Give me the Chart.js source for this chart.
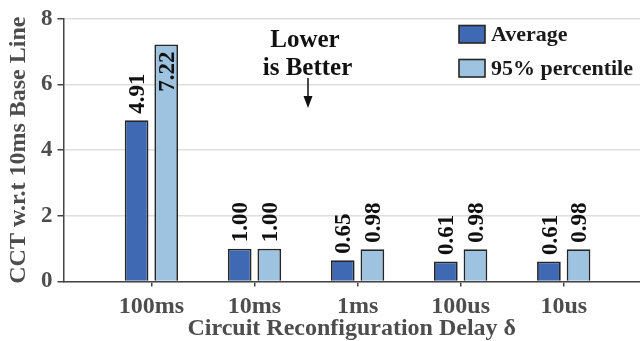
<!DOCTYPE html>
<html>
<head>
<meta charset="utf-8">
<script src="https://cdn.jsdelivr.net/npm/chart.js@4.4.1/dist/chart.umd.min.js"></script>
<style>
  html, body { margin: 0; padding: 0; background: #fff; }
  #wrap { width: 640px; height: 341px; position: relative; }
</style>
</head>
<body>
<div id="wrap"><canvas id="delayChart"></canvas></div>
<script>
'use strict';

const categories = ['100ms', '10ms', '1ms', '100us', '10us'];
const averageValues = [4.91, 1.00, 0.65, 0.61, 0.61];
const percentileValues = [7.22, 1.00, 0.98, 0.98, 0.98];
const seriesNames = ['Average', '95% percentile'];
const yTickValues = [0, 2, 4, 6, 8];
const noteLines = ['Lower', 'is Better'];

const serif = '"Liberation Serif", "Times New Roman", serif';
const avgColor = '#3f69b3';
const pctColor = '#9ec3e0';
const edgeColor = '#262626';
const axisGray = '#4d4d4d';

function toPoints(values) {
    let points = [];
    for (let i = 0; i < values.length; i++) {
        points.push({ x: i, y: values[i] });
    }
    return points;
}

// rotated value labels above (or inside, when no room) each bar
const barLabels = {
    id: 'barLabels',
    afterDatasetsDraw(chart) {
        const ctx = chart.ctx;
        const top = chart.chartArea.top;
        ctx.save();
        ctx.font = 'bold 23px ' + serif;
        ctx.fillStyle = '#111';
        ctx.textBaseline = 'alphabetic';
        chart.data.datasets.forEach((ds, d) => {
            const meta = chart.getDatasetMeta(d);
            meta.data.forEach((bar, i) => {
                const text = ds.data[i].y.toFixed(2);
                const w = ctx.measureText(text).width;
                ctx.save();
                ctx.translate(bar.x + 7.6, bar.y);
                ctx.rotate(-Math.PI / 2);
                if (bar.y - 6.5 - w < top) {
                    ctx.textAlign = 'right';
                    ctx.fillText(text, -7, 0);
                } else {
                    ctx.textAlign = 'left';
                    ctx.fillText(text, 6.5, 0);
                }
                ctx.restore();
            });
        });
        ctx.restore();
    }
};

// legend boxes in the top right corner and the "Lower is Better" note
const extras = {
    id: 'extras',
    afterDraw(chart) {
        const ctx = chart.ctx;
        ctx.save();
        const fills = [avgColor, pctColor];
        ctx.font = 'bold 22px ' + serif;
        ctx.textAlign = 'left';
        ctx.textBaseline = 'alphabetic';
        for (let i = 0; i < seriesNames.length; i++) {
            const by = 25.5 + i * 34;
            ctx.fillStyle = fills[i];
            ctx.fillRect(459, by, 26, 17.5);
            ctx.strokeStyle = edgeColor;
            ctx.lineWidth = 1.6;
            ctx.strokeRect(459, by, 26, 17.5);
            ctx.fillStyle = '#1a1a1a';
            ctx.fillText(seriesNames[i], 491, by + 15.5);
        }

        ctx.font = 'bold 25px ' + serif;
        ctx.textAlign = 'center';
        ctx.fillStyle = '#111';
        ctx.fillText(noteLines[0], 305, 46.5);
        ctx.fillText(noteLines[1], 307.5, 75);

        ctx.strokeStyle = '#111';
        ctx.lineWidth = 1.5;
        ctx.beginPath();
        ctx.moveTo(308, 78);
        ctx.lineTo(308, 100);
        ctx.stroke();
        ctx.beginPath();
        ctx.moveTo(303.5, 96);
        ctx.lineTo(312.5, 96);
        ctx.lineTo(308, 108);
        ctx.closePath();
        ctx.fillStyle = '#111';
        ctx.fill();
        ctx.restore();
    }
};

const data = {
    datasets: [
        {
            label: seriesNames[0],
            data: toPoints(averageValues),
            backgroundColor: avgColor,
            borderColor: edgeColor,
            borderWidth: 1.8,
        },
        {
            label: seriesNames[1],
            data: toPoints(percentileValues),
            backgroundColor: pctColor,
            borderColor: edgeColor,
            borderWidth: 1.8,
        },
    ]
};

const config = {
    type: 'bar',
    data: data,
    options: {
        responsive: true,
        maintainAspectRatio: false,
        animation: false,
        categoryPercentage: 0.575,
        barPercentage: 0.8,
        layout: { padding: { top: 17.3, right: 0, bottom: 0, left: 0 } },
        plugins: {
            legend: { display: false },
            tooltip: { enabled: false },
        },
        scales: {
            x: {
                type: 'linear',
                offset: false,
                min: -0.853,
                max: 4.74,
                afterBuildTicks(scale) {
                    scale.ticks = categories.map((c, i) => ({ value: i }));
                },
                afterFit(scale) {
                    scale.height = 59.5;
                },
                ticks: {
                    callback: (v) => categories[v] ?? '',
                    color: axisGray,
                    padding: 6,
                    autoSkip: false,
                    maxRotation: 0,
                    font: { family: serif, size: 24, weight: 'bold', lineHeight: 1.2 },
                },
                grid: {
                    offset: false,
                    drawOnChartArea: false,
                    drawTicks: true,
                    tickLength: 5,
                    tickColor: '#444',
                    lineWidth: 1.5,
                },
                border: { color: '#444', width: 1.5 },
                title: {
                    display: true,
                    text: 'Circuit Reconfiguration Delay δ',
                    color: axisGray,
                    padding: { top: 0, bottom: 0 },
                    font: { family: serif, size: 24, weight: 'bold', lineHeight: 1.05 },
                },
            },
            y: {
                min: 0,
                max: 8,
                afterBuildTicks(scale) {
                    scale.ticks = yTickValues.map((v) => ({ value: v }));
                },
                afterFit(scale) {
                    scale.width = 63.5;
                },
                ticks: {
                    color: axisGray,
                    padding: 5,
                    font: { family: serif, size: 23, weight: 'bold' },
                },
                grid: {
                    color: '#dedede',
                    lineWidth: 1.5,
                    tickLength: 6,
                    tickColor: '#444',
                },
                border: { color: '#444', width: 1.5 },
                title: {
                    display: true,
                    text: 'CCT w.r.t 10ms Base Line',
                    color: axisGray,
                    padding: { top: 4.5, bottom: 0 },
                    font: { family: serif, size: 24, weight: 'bold' },
                },
            },
        },
    },
    plugins: [barLabels, extras],
};

const chartCanvas = document.getElementById('delayChart');
const delayChart = new Chart(chartCanvas, config);
</script>
</body>
</html>
